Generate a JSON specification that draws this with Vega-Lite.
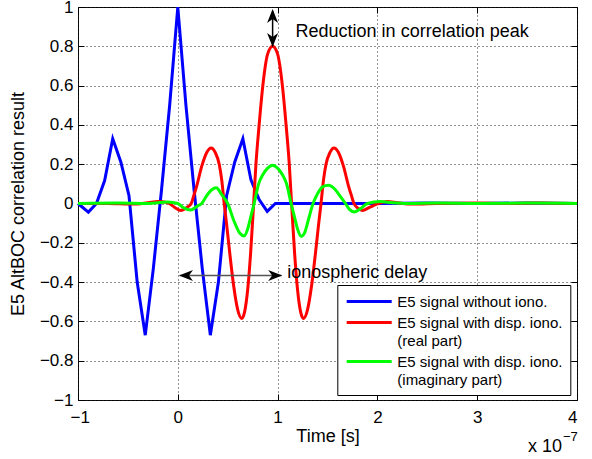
{
  "$schema": "https://vega.github.io/schema/vega-lite/v6.json",
  "autosize": "none",
  "padding": {"left": 78, "top": 7, "right": 15, "bottom": 59},
  "width": 499,
  "height": 393,
  "config": {
    "font": "Liberation Sans",
    "view": {"stroke": "black", "strokeWidth": 1},
    "style": {"guide-label": {"lineHeight": 18.3}}
  },
  "datasets": {
    "series": [
      {"k": "b", "name": "E5 signal without iono."},
      {"k": "r", "name": "E5 signal with disp. iono. (real part)"},
      {"k": "g", "name": "E5 signal with disp. iono. (imaginary part)"}
    ],
    "curves": [
      {"k":"b","x":-1,"y":0},{"k":"b","x":-0.896,"y":-0.044},{"k":"b","x":-0.815,"y":0.0},{"k":"b","x":-0.733,"y":0.117},{"k":"b","x":-0.652,"y":0.33},{"k":"b","x":-0.57,"y":0.21},{"k":"b","x":-0.489,"y":0.04},{"k":"b","x":-0.407,"y":-0.4},{"k":"b","x":-0.326,"y":-0.67},{"k":"b","x":-0.245,"y":-0.33},{"k":"b","x":-0.163,"y":0.07},{"k":"b","x":-0.0815,"y":0.5},{"k":"b","x":0,"y":1},{"k":"b","x":0.0815,"y":0.5},{"k":"b","x":0.163,"y":0.07},{"k":"b","x":0.245,"y":-0.33},{"k":"b","x":0.326,"y":-0.67},{"k":"b","x":0.407,"y":-0.4},{"k":"b","x":0.489,"y":0.04},{"k":"b","x":0.57,"y":0.21},{"k":"b","x":0.652,"y":0.33},{"k":"b","x":0.733,"y":0.12},{"k":"b","x":0.815,"y":0.02},{"k":"b","x":0.896,"y":-0.04},{"k":"b","x":0.978,"y":0},{"k":"b","x":1.5,"y":0},{"k":"b","x":2,"y":0},{"k":"b","x":2.5,"y":0.003},{"k":"b","x":3,"y":0},{"k":"b","x":3.5,"y":0.003},{"k":"b","x":4,"y":0},

      {"k":"r","x":-1,"y":0},{"k":"r","x":-0.7,"y":0},{"k":"r","x":-0.45,"y":-0.003},{"k":"r","x":-0.3,"y":0.004},{"k":"r","x":-0.2,"y":0.01},{"k":"r","x":-0.1,"y":0.004},{"k":"r","x":-0.03,"y":-0.02},{"k":"r","x":0.03,"y":-0.035},{"k":"r","x":0.09,"y":-0.02},{"k":"r","x":0.135,"y":0},{"k":"r","x":0.16,"y":0.04},{"k":"r","x":0.19,"y":0.09},{"k":"r","x":0.24,"y":0.19},{"k":"r","x":0.29,"y":0.26},{"k":"r","x":0.335,"y":0.283},{"k":"r","x":0.375,"y":0.26},{"k":"r","x":0.415,"y":0.2},{"k":"r","x":0.44,"y":0.12},{"k":"r","x":0.465,"y":0},{"k":"r","x":0.49,"y":-0.11},{"k":"r","x":0.52,"y":-0.25},{"k":"r","x":0.56,"y":-0.42},{"k":"r","x":0.6,"y":-0.54},{"k":"r","x":0.64,"y":-0.585},{"k":"r","x":0.67,"y":-0.55},{"k":"r","x":0.7,"y":-0.44},{"k":"r","x":0.73,"y":-0.25},{"k":"r","x":0.76,"y":0},{"k":"r","x":0.783,"y":0.2},{"k":"r","x":0.815,"y":0.4},{"k":"r","x":0.852,"y":0.6},{"k":"r","x":0.9,"y":0.76},{"k":"r","x":0.95,"y":0.8},{"k":"r","x":1.0,"y":0.76},{"k":"r","x":1.048,"y":0.6},{"k":"r","x":1.085,"y":0.4},{"k":"r","x":1.117,"y":0.2},{"k":"r","x":1.14,"y":0},{"k":"r","x":1.17,"y":-0.25},{"k":"r","x":1.2,"y":-0.44},{"k":"r","x":1.23,"y":-0.55},{"k":"r","x":1.26,"y":-0.585},{"k":"r","x":1.3,"y":-0.54},{"k":"r","x":1.34,"y":-0.42},{"k":"r","x":1.38,"y":-0.25},{"k":"r","x":1.41,"y":-0.11},{"k":"r","x":1.435,"y":0},{"k":"r","x":1.46,"y":0.12},{"k":"r","x":1.485,"y":0.2},{"k":"r","x":1.525,"y":0.26},{"k":"r","x":1.565,"y":0.283},{"k":"r","x":1.61,"y":0.26},{"k":"r","x":1.66,"y":0.19},{"k":"r","x":1.71,"y":0.09},{"k":"r","x":1.74,"y":0.04},{"k":"r","x":1.765,"y":0},{"k":"r","x":1.8,"y":-0.022},{"k":"r","x":1.85,"y":-0.035},{"k":"r","x":1.92,"y":-0.02},{"k":"r","x":2.0,"y":-0.002},{"k":"r","x":2.1,"y":0.01},{"k":"r","x":2.2,"y":0.004},{"k":"r","x":2.35,"y":-0.003},{"k":"r","x":2.6,"y":0},{"k":"r","x":3.0,"y":0.002},{"k":"r","x":3.3,"y":0},{"k":"r","x":3.6,"y":0.003},{"k":"r","x":4.0,"y":0},

      {"k":"g","x":-1,"y":0},{"k":"g","x":-0.6,"y":0.002},{"k":"g","x":-0.3,"y":0},{"k":"g","x":-0.1,"y":0.008},{"k":"g","x":0,"y":0},{"k":"g","x":0.06,"y":-0.022},{"k":"g","x":0.13,"y":-0.033},{"k":"g","x":0.2,"y":-0.012},{"k":"g","x":0.24,"y":0},{"k":"g","x":0.29,"y":0.04},{"k":"g","x":0.34,"y":0.07},{"k":"g","x":0.385,"y":0.08},{"k":"g","x":0.44,"y":0.045},{"k":"g","x":0.5,"y":0},{"k":"g","x":0.56,"y":-0.085},{"k":"g","x":0.62,"y":-0.15},{"k":"g","x":0.665,"y":-0.165},{"k":"g","x":0.7,"y":-0.13},{"k":"g","x":0.73,"y":-0.07},{"k":"g","x":0.765,"y":0},{"k":"g","x":0.81,"y":0.1},{"k":"g","x":0.85,"y":0.145},{"k":"g","x":0.9,"y":0.18},{"k":"g","x":0.95,"y":0.195},{"k":"g","x":1.0,"y":0.18},{"k":"g","x":1.05,"y":0.145},{"k":"g","x":1.09,"y":0.1},{"k":"g","x":1.135,"y":0},{"k":"g","x":1.17,"y":-0.07},{"k":"g","x":1.2,"y":-0.13},{"k":"g","x":1.235,"y":-0.167},{"k":"g","x":1.27,"y":-0.15},{"k":"g","x":1.31,"y":-0.08},{"k":"g","x":1.355,"y":0},{"k":"g","x":1.4,"y":0.05},{"k":"g","x":1.45,"y":0.085},{"k":"g","x":1.51,"y":0.093},{"k":"g","x":1.57,"y":0.075},{"k":"g","x":1.63,"y":0.035},{"k":"g","x":1.68,"y":0},{"k":"g","x":1.72,"y":-0.03},{"k":"g","x":1.77,"y":-0.043},{"k":"g","x":1.82,"y":-0.03},{"k":"g","x":1.9,"y":0},{"k":"g","x":2.03,"y":0.01},{"k":"g","x":2.15,"y":0.004},{"k":"g","x":2.3,"y":0},{"k":"g","x":2.6,"y":0.002},{"k":"g","x":3.0,"y":0},{"k":"g","x":3.5,"y":0.002},{"k":"g","x":4.0,"y":0}
    ],
    "heads": [
      {"x": 0.95, "y": 0.99, "dir": "up"},
      {"x": 0.95, "y": 0.797, "dir": "down"},
      {"x": 0.012, "y": -0.366, "dir": "left"},
      {"x": 1.046, "y": -0.366, "dir": "right"}
    ],
    "notes": [
      {"x": 1.18, "y": 0.872, "text": "Reduction in correlation peak"},
      {"x": 1.097, "y": -0.356, "text": "ionospheric delay"},
      {"x": 3.51, "y": -1.24, "text": "x 10"}
    ],
    "sup": [
      {"x": 3.86, "y": -1.19, "text": "−7"}
    ]
  },
  "layer": [
    {
      "data": {"name": "curves"},
      "transform": [
        {"filter": "datum.k == 'b'"},
        {"lookup": "k", "from": {"data": {"name": "series"}, "key": "k", "fields": ["name"]}}
      ],
      "mark": {"type": "line", "strokeWidth": 3, "interpolate": "linear"},
      "encoding": {
        "x": {"field": "x", "type": "quantitative", "scale": {"domain": [-1, 4], "nice": false, "zero": false},
          "axis": {"orient": "bottom", "values": [-1, 0, 1, 2, 3, 4], "format": "~g", "title": "Time [s]",
            "grid": true, "gridDash": [1, 3], "gridColor": "#222222", "gridOpacity": 1, "gridWidth": 1,
            "tickSize": -6, "tickColor": "black", "domain": false,
            "labelFontSize": 17, "labelColor": "black", "labelPadding": 15,
            "labelOffset": {"condition": {"test": "datum.value < 0", "value": -8}, "value": 0},
            "titleFontSize": 18, "titleFontWeight": "normal", "titleColor": "black", "titlePadding": 2}},
        "y": {"field": "y", "type": "quantitative", "scale": {"domain": [-1, 1], "nice": false, "zero": false},
          "axis": {"orient": "left", "values": [-1, -0.8, -0.6, -0.4, -0.2, 0, 0.2, 0.4, 0.6, 0.8, 1], "format": "~g",
            "title": "E5 AltBOC correlation result",
            "grid": true, "gridDash": [1, 3], "gridColor": "#222222", "gridOpacity": 1, "gridWidth": 1,
            "tickSize": -6, "tickColor": "black", "domain": false,
            "labelFontSize": 17, "labelColor": "black", "labelPadding": 11,
            "titleFontSize": 18, "titleFontWeight": "normal", "titleColor": "black", "titlePadding": 12}},
        "color": {"field": "name", "type": "nominal",
          "scale": {"domain": ["E5 signal without iono.", "E5 signal with disp. iono. (real part)", "E5 signal with disp. iono. (imaginary part)"], "range": ["#0000ff", "#ff0000", "#00ff00"]},
          "legend": {"orient": "none", "legendX": 259.3, "legendY": 278, "title": null,
            "strokeColor": "black", "fillColor": "white", "padding": 7, "cornerRadius": 0,
            "symbolOffset": 15.4, "symbolType": "M-2.8125,0H2.8125", "symbolSize": 256, "symbolStrokeWidth": 3,
            "labelFontSize": 15, "labelColor": "black", "labelOffset": 18.6, "labelLimit": 400, "rowPadding": 3,
            "labelExpr": "split(replace(datum.label, ' (', '|('), '|')"}}
      }
    },
    {
      "data": {"name": "curves"},
      "transform": [
        {"filter": "datum.k == 'r'"},
        {"lookup": "k", "from": {"data": {"name": "series"}, "key": "k", "fields": ["name"]}}
      ],
      "mark": {"type": "line", "strokeWidth": 3, "interpolate": "monotone"},
      "encoding": {
        "x": {"field": "x", "type": "quantitative", "scale": {"domain": [-1, 4], "nice": false, "zero": false}, "axis": null},
        "y": {"field": "y", "type": "quantitative", "scale": {"domain": [-1, 1], "nice": false, "zero": false}, "axis": null},
        "color": {"field": "name", "type": "nominal"}
      }
    },
    {
      "data": {"name": "curves"},
      "transform": [
        {"filter": "datum.k == 'g'"},
        {"lookup": "k", "from": {"data": {"name": "series"}, "key": "k", "fields": ["name"]}}
      ],
      "mark": {"type": "line", "strokeWidth": 3, "interpolate": "monotone"},
      "encoding": {
        "x": {"field": "x", "type": "quantitative", "scale": {"domain": [-1, 4], "nice": false, "zero": false}, "axis": null},
        "y": {"field": "y", "type": "quantitative", "scale": {"domain": [-1, 1], "nice": false, "zero": false}, "axis": null},
        "color": {"field": "name", "type": "nominal"}
      }
    },
    {
      "data": {"values": [{"x": 0.95, "y": 0.8, "y2": 0.98}]},
      "mark": {"type": "rule", "color": "black", "strokeWidth": 1.5},
      "encoding": {
        "x": {"field": "x", "type": "quantitative", "scale": {"domain": [-1, 4], "nice": false, "zero": false},
          "axis": {"orient": "top", "values": [-1, 0, 1, 2, 3, 4], "labels": false, "title": null, "grid": false, "domain": false, "tickSize": -6, "tickColor": "black"}},
        "y": {"field": "y", "type": "quantitative", "scale": {"domain": [-1, 1], "nice": false, "zero": false},
          "axis": {"orient": "right", "values": [-1, -0.8, -0.6, -0.4, -0.2, 0, 0.2, 0.4, 0.6, 0.8, 1], "labels": false, "title": null, "grid": false, "domain": false, "tickSize": -6, "tickColor": "black"}},
        "y2": {"field": "y2"}
      }
    },
    {
      "data": {"values": [{"x": 0.02, "x2": 1.04, "y": -0.366}]},
      "mark": {"type": "rule", "color": "#555555", "strokeWidth": 1.5},
      "encoding": {
        "x": {"field": "x", "type": "quantitative", "scale": {"domain": [-1, 4], "nice": false, "zero": false}, "axis": null},
        "x2": {"field": "x2"},
        "y": {"field": "y", "type": "quantitative", "scale": {"domain": [-1, 1], "nice": false, "zero": false}, "axis": null}
      }
    },
    {
      "data": {"name": "heads"},
      "mark": {"type": "point", "filled": true, "opacity": 1, "size": 196, "color": "black", "strokeWidth": 0},
      "encoding": {
        "x": {"field": "x", "type": "quantitative", "scale": {"domain": [-1, 4], "nice": false, "zero": false}, "axis": null},
        "y": {"field": "y", "type": "quantitative", "scale": {"domain": [-1, 1], "nice": false, "zero": false}, "axis": null},
        "shape": {"field": "dir", "type": "nominal", "legend": null,
          "scale": {"domain": ["up", "down", "left", "right"],
            "range": ["M0,0L-0.79,2L0,1.43L0.79,2Z", "M0,0L-0.79,-2L0,-1.43L0.79,-2Z", "M0,0L2,-0.79L1.43,0L2,0.79Z", "M0,0L-2,-0.79L-1.43,0L-2,0.79Z"]}}
      }
    },
    {
      "data": {"name": "notes"},
      "mark": {"type": "text", "align": "left", "baseline": "middle", "fontSize": 18, "color": "black"},
      "encoding": {
        "x": {"field": "x", "type": "quantitative", "scale": {"domain": [-1, 4], "nice": false, "zero": false}, "axis": null},
        "y": {"field": "y", "type": "quantitative", "scale": {"domain": [-1, 1], "nice": false, "zero": false}, "axis": null},
        "text": {"field": "text"}
      }
    },
    {
      "data": {"name": "sup"},
      "mark": {"type": "text", "align": "left", "baseline": "middle", "fontSize": 13, "color": "black"},
      "encoding": {
        "x": {"field": "x", "type": "quantitative", "scale": {"domain": [-1, 4], "nice": false, "zero": false}, "axis": null},
        "y": {"field": "y", "type": "quantitative", "scale": {"domain": [-1, 1], "nice": false, "zero": false}, "axis": null},
        "text": {"field": "text"}
      }
    }
  ],
  "resolve": {"axis": {"x": "independent", "y": "independent"}}
}
